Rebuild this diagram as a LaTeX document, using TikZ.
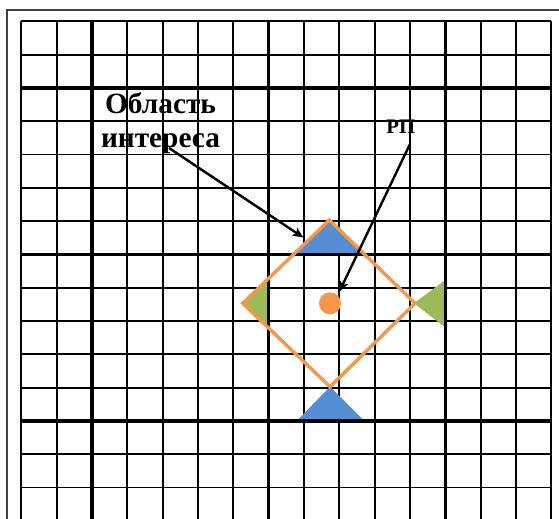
\documentclass[tikz,border=0pt]{standalone}
\usepackage{fontspec}
\setmainfont{Liberation Serif}
\usetikzlibrary{arrows.meta}
\definecolor{orng}{HTML}{F79646}
\definecolor{blu}{HTML}{558ED5}
\definecolor{grn}{HTML}{9BBB59}
\begin{document}
\begin{tikzpicture}[x=0.75pt,y=-0.75pt,
  gthin/.style={line width=1.4pt,black},
  gthick/.style={line width=2.6pt,black},
  frame/.style={line width=1.6pt,black!75},
  outline/.style={line width=2.5pt,orng,line join=miter},
  arr/.style={line width=1.8pt,black,-{Stealth[length=8pt,width=7pt,inset=2pt]}},
  lbl/.style={font=\bfseries, inner sep=0pt}]
\useasboundingbox (0,0) rectangle (559,518);
\clip (0,0) rectangle (559,518);
% outer frame (partly outside the picture)
\draw[frame] (7.3,600) -- (7.3,9.7) -- (600,9.7);
% thin grid
\foreach \k in {0,...,15} {
  \draw[gthin] ({21.3+35.333*\k},21.3) -- ({21.3+35.333*\k},560);
  \draw[gthin] (21.3,{21.3+33.3*\k}) -- (551.3,{21.3+33.3*\k});
}
% coloured corners inside the region
\begin{scope}
  \clip (329.3,220) -- (415,303.3) -- (330,386.7) -- (242.7,303.3) -- cycle;
  \fill[blu] (200,200) rectangle (450,254.4);
  \fill[grn] (200,250) rectangle (268.7,360);
\end{scope}
% outer triangles
\fill[blu] (330,386.7) -- (364.3,421) -- (296.7,421) -- cycle;
\fill[grn] (414,303.3) -- (444.3,280.7) -- (444.3,326.7) -- cycle;
% thick grid lines
\foreach \k in {2,7,12} {
  \draw[gthick] ({21.3+35.333*\k},21.3) -- ({21.3+35.333*\k},560);
  \draw[gthick] (21.3,{21.3+33.3*\k}) -- (551.3,{21.3+33.3*\k});
}
% region outline
\draw[outline] (329.3,220) -- (415,303.3) -- (330,386.7) -- (242.7,303.3) -- cycle;
% point
\node[circle,fill=orng,minimum size=16.5pt,inner sep=0pt] (dot) at (330,303.3) {};
% labels
\node[lbl,font=\fontsize{22}{26}\selectfont\bfseries,align=center] (area) at (160.5,123) {Область\\интереса};
\node[lbl,font=\fontsize{15.5}{18}\selectfont\bfseries,anchor=base] (rp) at (400.8,133.5) {РП};
% connectors
\coordinate (a1s) at (169,148);
\coordinate (a1e) at (303.3,237.5);
\coordinate (a2s) at (410,144);
\coordinate (a2e) at (339.3,291.7);
\draw[arr] (a1s) -- (a1e);
\draw[arr] (a2s) -- (a2e);
\end{tikzpicture}
\end{document}
